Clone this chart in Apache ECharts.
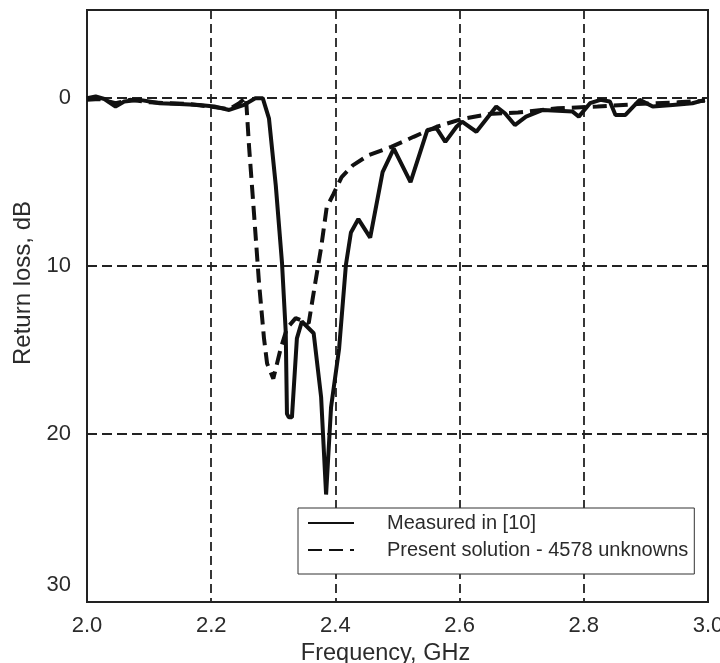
<!DOCTYPE html>
<html>
<head>
<meta charset="utf-8">
<script src="https://cdn.jsdelivr.net/npm/echarts@6/dist/echarts.min.js"></script>
<style>
html,body{margin:0;padding:0;background:#fff;}
#chart{width:720px;height:663px;}
</style>
</head>
<body>
<div id="chart"></div>
<script>
// Measured in [10]
const measuredFreq = [2.000, 2.014, 2.028, 2.046, 2.060, 2.085, 2.117, 2.149, 2.181, 2.205, 2.229, 2.253, 2.271, 2.283, 2.293, 2.304, 2.314, 2.320, 2.322, 2.325, 2.330, 2.338, 2.346, 2.365, 2.377, 2.385, 2.393, 2.406, 2.417, 2.425, 2.437, 2.456, 2.476, 2.494, 2.521, 2.548, 2.563, 2.577, 2.595, 2.604, 2.627, 2.659, 2.673, 2.689, 2.707, 2.734, 2.782, 2.792, 2.810, 2.827, 2.842, 2.851, 2.867, 2.890, 2.911, 2.943, 2.975, 2.995];
const measuredLoss = [0.0, -0.1, 0.05, 0.5, 0.2, 0.1, 0.3, 0.35, 0.4, 0.5, 0.7, 0.4, 0.0, 0.0, 1.2, 5.2, 9.8, 13.9, 18.8, 19.0, 19.0, 14.3, 13.3, 14.0, 17.8, 23.6, 18.4, 14.9, 9.9, 8.0, 7.2, 8.3, 4.4, 3.0, 5.0, 1.9, 1.8, 2.6, 1.7, 1.4, 2.0, 0.5, 0.9, 1.6, 1.1, 0.7, 0.8, 1.1, 0.3, 0.1, 0.2, 1.0, 1.0, 0.1, 0.5, 0.4, 0.3, 0.1];
// Present solution - 4578 unknowns
const solutionFreq = [2.000, 2.020, 2.046, 2.069, 2.101, 2.133, 2.165, 2.197, 2.229, 2.245, 2.256, 2.261, 2.269, 2.277, 2.285, 2.290, 2.300, 2.312, 2.322, 2.336, 2.357, 2.368, 2.377, 2.386, 2.397, 2.410, 2.428, 2.453, 2.490, 2.526, 2.563, 2.603, 2.646, 2.694, 2.758, 2.822, 2.886, 2.951, 2.995];
const solutionLoss = [0.1, 0.05, 0.3, 0.1, 0.25, 0.3, 0.35, 0.5, 0.65, 0.3, -0.05, 2.9, 6.9, 11.0, 14.3, 15.8, 16.7, 14.9, 13.7, 13.1, 13.4, 10.9, 8.9, 6.5, 5.7, 4.7, 4.0, 3.4, 2.9, 2.3, 1.7, 1.25, 0.95, 0.85, 0.6, 0.5, 0.35, 0.25, 0.15];
const seriesNames = ['Measured in [10]', 'Present solution - 4578 unknowns'];
const xTicks = [2.0, 2.2, 2.4, 2.6, 2.8, 3.0];
const yTicks = [0, 10, 20, 30];

const FONT = '"Liberation Sans", Arial, Helvetica, sans-serif';
const TXT = '#2b2b2b';
const chart = echarts.init(document.getElementById('chart'), null, {renderer: 'canvas'});
const pair = (xs, ys) => xs.map((x, i) => [x, ys[i]]);

chart.setOption({
  animation: false,
  backgroundColor: '#fff',
  textStyle: {fontFamily: FONT},
  grid: {left: 87, right: 12, top: 10, bottom: 61, show: true, borderColor: '#222', borderWidth: 2,
    backgroundColor: 'transparent', containLabel: false, outerBoundsMode: 'none'},
  legend: {
    data: seriesNames,
    orient: 'vertical',
    left: 298, top: 508,
    itemWidth: 46, itemHeight: 14, itemGap: 7,
    padding: [5, 6, 14, 9],
    backgroundColor: '#fff',
    borderColor: '#333', borderWidth: 1,
    itemStyle: {color: 'rgba(0,0,0,0)', borderColor: 'rgba(0,0,0,0)', borderWidth: 0, opacity: 0},
    textStyle: {fontFamily: FONT, fontSize: 20, color: TXT, padding: [0, 0, 0, 28]}
  },
  xAxis: {
    type: 'value', min: 2.0, max: 3.0, interval: 0.2,
    name: 'Frequency, GHz', nameLocation: 'middle', nameGap: 34,
    nameTextStyle: {fontFamily: FONT, fontSize: 23.5, color: TXT, padding: [0, 24, 0, 0]},
    axisLine: {show: true, onZero: false, lineStyle: {color: '#222', width: 2}},
    axisTick: {show: false},
    axisLabel: {fontFamily: FONT, fontSize: 22, color: TXT, margin: 13,
      formatter: v => xTicks.some(t => Math.abs(t - v) < 1e-6) ? v.toFixed(1) : ''},
    splitLine: {show: true, lineStyle: {color: '#222', width: 1.8, type: [9, 5]}}
  },
  yAxis: {
    type: 'value', inverse: true, min: -5.25, max: 30, splitNumber: 4,
    name: 'Return loss, dB', nameLocation: 'middle', nameGap: 50,
    nameTextStyle: {fontFamily: FONT, fontSize: 24, color: TXT, padding: [0, 0, 0, 46]},
    axisLine: {show: true, onZero: false, lineStyle: {color: '#222', width: 2}},
    axisTick: {show: false},
    axisLabel: {fontFamily: FONT, fontSize: 22, color: TXT, margin: 16, lineHeight: 17,
      formatter: v => {
        if (!yTicks.includes(v)) return '';
        return v === 30 ? '30\n\n' : String(v);
      }},
    splitLine: {show: true, lineStyle: {color: '#222', width: 1.8, type: [10, 5]}}
  },
  series: [
    {
      name: seriesNames[0], type: 'line', symbol: 'none', z: 3,
      color: '#111',
      lineStyle: {color: '#111', width: 4, type: 'solid'},
      data: pair(measuredFreq, measuredLoss)
    },
    {
      name: seriesNames[1], type: 'line', symbol: 'none', z: 2,
      color: '#111',
      lineStyle: {color: '#111', width: 4, type: [14, 7]},
      data: pair(solutionFreq, solutionLoss)
    }
  ]
});
</script>
</body>
</html>
